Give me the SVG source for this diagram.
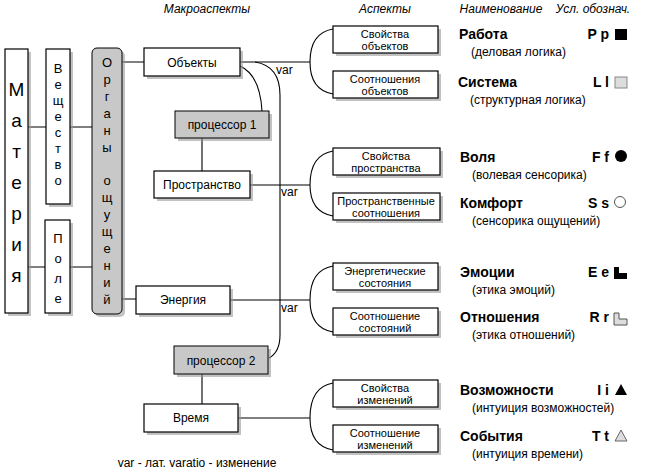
<svg xmlns="http://www.w3.org/2000/svg" width="645" height="475" viewBox="0 0 645 475">
<style>
text{font-family:"Liberation Sans",Arial,sans-serif;fill:#000}
.b{fill:#fff;stroke:#000;stroke-width:1.2}
.g{fill:#c8c8c8;stroke:#000;stroke-width:1}
.sh{fill:#9a9a9a;opacity:.6}
.l{fill:none;stroke:#000;stroke-width:1.1}
.h{font-style:italic;font-size:12px;text-anchor:middle}
.t{font-size:12px;text-anchor:middle}
.a{font-size:11px;text-anchor:middle}
.v{font-size:19px;text-anchor:middle}
.vs{font-size:13px;text-anchor:middle}
.n{font-size:14px;font-weight:bold}
.s{font-size:12px}
.c{font-size:14px;font-weight:bold;text-anchor:end}
</style>
<text class="h" x="207" y="13">Макроаспекты</text>
<text class="h" x="385" y="13">Аспекты</text>
<text class="h" x="501" y="13">Наименование</text>
<text class="h" x="593" y="13">Усл. обознач.</text>

<g id="connectors">
<path class="l" d="M28 127H46M70 127H92M28 267H45M70 267H92M122 62H144M122 299H136"/>
<path class="l" d="M240 62H310M250 185H310M230 300H310M238 418H310"/>
<path class="l" d="M202 138V171M202 374V404"/>
<path class="l" d="M240 66 Q260 75 262 111"/>
<path class="l" d="M255 62 Q280 66 280 95 V335 Q280 352 269 358"/>
<path class="l" d="M333 29 Q310 33 310 62 Q310 90 333 94"/>
<path class="l" d="M333 151 Q310 155 310 185 Q310 212 333 216"/>
<path class="l" d="M333 266 Q310 270 310 300 Q310 328 333 332"/>
<path class="l" d="M333 383 Q310 387 310 418 Q310 446 333 450"/>
<text class="s" x="276" y="74" font-size="11">var</text>
<text class="s" x="281" y="196" font-size="11">var</text>
<text class="s" x="281" y="312" font-size="11">var</text>
</g>

<g id="materia"><rect class="sh" x="8" y="52" width="23" height="264"/><rect class="b" x="5" y="49" width="23" height="264"/>
<text class="v" x="16.5" y="96">М</text><text class="v" x="16.5" y="127">а</text><text class="v" x="16.5" y="158">т</text><text class="v" x="16.5" y="189">е</text><text class="v" x="16.5" y="220">р</text><text class="v" x="16.5" y="251">и</text><text class="v" x="16.5" y="282">я</text></g>
<g id="veshchestvo"><rect class="sh" x="49" y="52" width="24" height="155"/><rect class="b" x="46" y="49" width="24" height="155"/>
<text class="vs" x="58" y="73">В</text><text class="vs" x="58" y="89">е</text><text class="vs" x="58" y="105">щ</text><text class="vs" x="58" y="121">е</text><text class="vs" x="58" y="137">с</text><text class="vs" x="58" y="153">т</text><text class="vs" x="58" y="169">в</text><text class="vs" x="58" y="185">о</text></g>
<g id="pole"><rect class="sh" x="48" y="223" width="25" height="93"/><rect class="b" x="45" y="220" width="25" height="93"/>
<text class="vs" x="58" y="243">П</text><text class="vs" x="58" y="263">о</text><text class="vs" x="58" y="283">л</text><text class="vs" x="58" y="303">е</text></g>
<g id="organy"><rect class="sh" x="95" y="51" width="30" height="266" rx="5"/><rect class="g" x="92" y="48" width="30" height="266" rx="5"/>
<text class="vs" x="107" y="67">О</text><text class="vs" x="107" y="84">р</text><text class="vs" x="107" y="101">г</text><text class="vs" x="107" y="118">а</text><text class="vs" x="107" y="135">н</text><text class="vs" x="107" y="152">ы</text>
<text class="vs" x="107" y="185">о</text><text class="vs" x="107" y="202">щ</text><text class="vs" x="107" y="219">у</text><text class="vs" x="107" y="236">щ</text><text class="vs" x="107" y="253">е</text><text class="vs" x="107" y="270">н</text><text class="vs" x="107" y="287">и</text><text class="vs" x="107" y="304">й</text></g>

<g id="obekty"><rect class="sh" x="147" y="51" width="96" height="28"/><rect class="b" x="144" y="48" width="96" height="28"/><text class="t" x="192" y="67">Объекты</text></g>
<g id="proc1"><rect class="sh" x="178" y="114" width="94" height="27"/><rect class="g" x="175" y="111" width="94" height="27"/><text class="t" x="222" y="129">процессор 1</text></g>
<g id="prostranstvo"><rect class="sh" x="157" y="174" width="96" height="27"/><rect class="b" x="154" y="171" width="96" height="27"/><text class="t" x="202" y="189">Пространство</text></g>
<g id="energiya"><rect class="sh" x="139" y="289" width="94" height="28"/><rect class="b" x="136" y="286" width="94" height="28"/><text class="t" x="183" y="304">Энергия</text></g>
<g id="proc2"><rect class="sh" x="177" y="349" width="94" height="28"/><rect class="g" x="174" y="346" width="94" height="28"/><text class="t" x="221" y="365">процессор 2</text></g>
<g id="vremya"><rect class="sh" x="147" y="407" width="94" height="28"/><rect class="b" x="144" y="404" width="94" height="28"/><text class="t" x="191" y="422">Время</text></g>

<g id="a1"><rect class="sh" x="336" y="29" width="105" height="27"/><rect class="b" x="333" y="26" width="105" height="27"/><text class="a" x="385" y="38">Свойства</text><text class="a" x="385" y="50">объектов</text></g>
<g id="a2"><rect class="sh" x="336" y="74" width="105" height="27"/><rect class="b" x="333" y="71" width="105" height="27"/><text class="a" x="385" y="83">Соотношения</text><text class="a" x="385" y="95">объектов</text></g>
<g id="a3"><rect class="sh" x="336" y="151" width="107" height="27"/><rect class="b" x="333" y="148" width="107" height="27"/><text class="a" x="386" y="160">Свойства</text><text class="a" x="386" y="172">пространства</text></g>
<g id="a4"><rect class="sh" x="336" y="196" width="107" height="27"/><rect class="b" x="333" y="193" width="107" height="27"/><text class="a" x="386" y="205">Пространственные</text><text class="a" x="386" y="217">соотношения</text></g>
<g id="a5"><rect class="sh" x="336" y="266" width="105" height="27"/><rect class="b" x="333" y="263" width="105" height="27"/><text class="a" x="385" y="275">Энергетические</text><text class="a" x="385" y="287">состояния</text></g>
<g id="a6"><rect class="sh" x="336" y="311" width="105" height="27"/><rect class="b" x="333" y="308" width="105" height="27"/><text class="a" x="385" y="320">Соотношение</text><text class="a" x="385" y="332">состояний</text></g>
<g id="a7"><rect class="sh" x="336" y="383" width="105" height="27"/><rect class="b" x="333" y="380" width="105" height="27"/><text class="a" x="385" y="392">Свойства</text><text class="a" x="385" y="404">изменений</text></g>
<g id="a8"><rect class="sh" x="336" y="428" width="105" height="27"/><rect class="b" x="333" y="425" width="105" height="27"/><text class="a" x="385" y="437">Соотношение</text><text class="a" x="385" y="449">изменений</text></g>

<g id="names">
<text class="n" x="459" y="39">Работа</text><text class="s" x="471" y="56">(деловая логика)</text>
<text class="n" x="458" y="87">Система</text><text class="s" x="470" y="104">(структурная логика)</text>
<text class="n" x="460" y="162">Воля</text><text class="s" x="472" y="179">(волевая сенсорика)</text>
<text class="n" x="460" y="208">Комфорт</text><text class="s" x="472" y="225">(сенсорика ощущений)</text>
<text class="n" x="460" y="277">Эмоции</text><text class="s" x="472" y="294">(этика эмоций)</text>
<text class="n" x="460" y="322">Отношения</text><text class="s" x="472" y="339">(этика отношений)</text>
<text class="n" x="460" y="395">Возможности</text><text class="s" x="472" y="412">(интуиция возможностей)</text>
<text class="n" x="460" y="441">События</text><text class="s" x="472" y="458">(интуиция времени)</text>
</g>
<g id="symbols">
<text class="c" x="609" y="39">P p</text><rect x="615" y="29" width="12" height="11" fill="#000"/>
<text class="c" x="609" y="87">L l</text><rect x="615" y="77" width="12" height="11" fill="#ddd" stroke="#888"/>
<text class="c" x="609" y="162">F f</text><circle cx="621" cy="156" r="6" fill="#000"/>
<text class="c" x="609" y="208">S s</text><circle cx="620" cy="202" r="5.5" fill="#fff" stroke="#555"/>
<text class="c" x="609" y="277">E e</text><path d="M614 267h5v6h8v6h-13z" fill="#000"/>
<text class="c" x="609" y="322">R r</text><path d="M614 313h5v6h8v6h-13z" fill="#ddd" stroke="#555"/>
<text class="c" x="609" y="395">I i</text><path d="M615 395l6-11 6 11z" fill="#000"/>
<text class="c" x="609" y="441">T t</text><path d="M615 441l6-11 6 11z" fill="#ddd" stroke="#666"/>
</g>
<text class="s" x="197" y="467" text-anchor="middle" font-size="11">var - лат. varatio - изменение</text>
</svg>
